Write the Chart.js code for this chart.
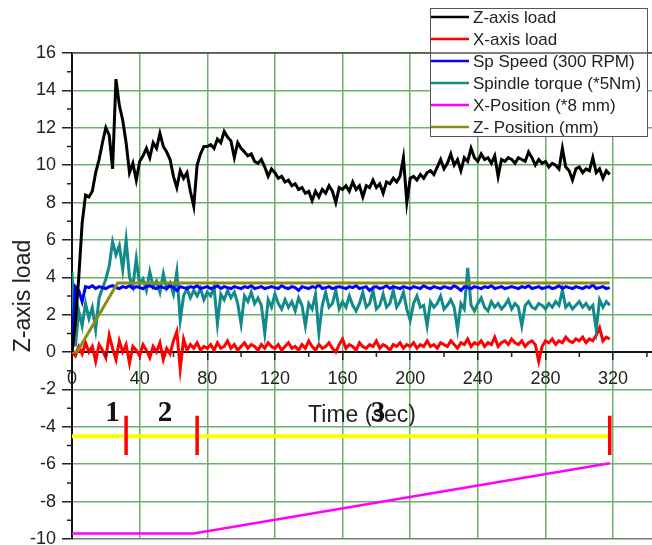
<!DOCTYPE html>
<html>
<head>
<meta charset="utf-8">
<title>Z-axis load</title>
<script src="https://cdn.jsdelivr.net/npm/chart.js@4.4.1/dist/chart.umd.min.js"></script>
<style>
    html, body { margin: 0; padding: 0; background: #fff; }
    #wrap { position: relative; width: 652px; height: 545px; }
</style>
</head>
<body>
<div id="wrap"><canvas id="load-chart"></canvas></div>
<script>
'use strict';

// one reading every 2 s
var timeSec = [
    0, 2, 4, 6, 8, 10, 12, 14, 16, 18,
    20, 22, 24, 26, 28, 30, 32, 34, 36, 38,
    40, 42, 44, 46, 48, 50, 52, 54, 56, 58,
    60, 62, 64, 66, 68, 70, 72, 74, 76, 78,
    80, 82, 84, 86, 88, 90, 92, 94, 96, 98,
    100, 102, 104, 106, 108, 110, 112, 114, 116, 118,
    120, 122, 124, 126, 128, 130, 132, 134, 136, 138,
    140, 142, 144, 146, 148, 150, 152, 154, 156, 158,
    160, 162, 164, 166, 168, 170, 172, 174, 176, 178,
    180, 182, 184, 186, 188, 190, 192, 194, 196, 198,
    200, 202, 204, 206, 208, 210, 212, 214, 216, 218,
    220, 222, 224, 226, 228, 230, 232, 234, 236, 238,
    240, 242, 244, 246, 248, 250, 252, 254, 256, 258,
    260, 262, 264, 266, 268, 270, 272, 274, 276, 278,
    280, 282, 284, 286, 288, 290, 292, 294, 296, 298,
    300, 302, 304, 306, 308, 310, 312, 314, 316, 318
];

var zAxisLoad = [
    0, 1.6, 4.0, 6.9, 8.4, 8.3, 8.6, 9.6, 10.3, 11.2,
    12.0, 11.6, 9.8, 14.6, 13.2, 12.4, 11.2, 9.6, 10.1, 9.2,
    10.2, 10.5, 10.9, 10.4, 11.2, 10.9, 11.7, 11.0, 10.7, 10.3,
    9.4, 8.8, 9.7, 9.3, 9.6, 8.6, 7.8, 10.0, 10.6, 11.0,
    11.0, 11.1, 10.9, 11.4, 11.2, 11.8, 11.5, 11.3, 10.4, 11.2,
    10.9, 10.7, 10.5, 10.6, 10.2, 10.1, 10.3, 9.9, 9.4, 9.8,
    9.6, 9.3, 9.4, 9.1, 9.2, 8.9, 9.0, 8.7, 8.8, 8.5,
    8.6, 8.1, 8.6, 8.3, 8.7, 8.5, 8.9, 8.6, 8.0, 8.8,
    8.7, 8.9, 8.6, 9.1, 8.7, 8.9, 8.3, 8.9, 8.8, 9.2,
    8.8, 9.0, 8.5, 9.1, 9.0, 9.3, 9.1, 9.4, 10.4, 8.0,
    9.3, 9.4, 9.2, 9.5, 9.3, 9.6, 9.7, 9.5, 9.9, 10.3,
    9.8, 10.1, 10.6, 10.0, 10.3, 9.7, 10.4, 10.2, 10.9, 10.4,
    10.2, 10.6, 10.3, 10.4, 10.1, 10.5, 9.4, 10.3, 10.2, 10.4,
    10.3, 10.1, 10.4, 10.3, 10.2, 10.7, 10.4, 10.0, 10.3, 10.1,
    10.2, 9.9, 10.1, 10.0, 9.8, 10.9, 9.9, 9.7, 9.2, 9.8,
    9.9, 9.6, 9.8, 9.7, 10.4, 9.6, 9.8, 9.3, 9.7, 9.5
];

var xAxisLoad = [
    0.0, -0.2, 0.3, -0.1, 0.5, 0.0, 0.3, -0.5, 0.4, 0.1,
    -0.3, 0.9, 0.2, -0.4, 0.6, 0.0, 0.4, -0.6, 0.3, 0.1,
    -0.2, 0.4, 0.1, -0.3, 0.3, 0.0, 0.5, -0.4, 0.2, -0.1,
    0.6, 1.1, -0.9, 0.7, 0.1, 0.4, 0.2, 0.5, 0.1, 0.3,
    0.2, 0.4, 0.1, 0.5, 0.2, 0.3, 0.6, 0.2, 0.4, 0.1,
    0.3, 0.5, 0.2, 0.4, 0.3, 0.1, 0.4, 0.2, 0.5, 0.3,
    0.2, 0.4, 0.1, 0.3, 0.5, 0.2, 0.3, 0.1, 0.4, 0.2,
    0.6, 0.3, 0.1, 0.4, 0.2, 0.3, 0.5, 0.2, 0.0, 0.4,
    0.7, 0.2, 0.4, 0.3, 0.1, 0.5, 0.3, 0.2, 0.4, 0.3,
    0.6, 0.2, 0.4, 0.3, 0.1, 0.4, 0.3, 0.5, 0.2, 0.4,
    0.3, 0.5, 0.2, 0.4, 0.3, 0.6, 0.3, 0.4, 0.2, 0.5,
    0.4, 0.3, 0.6, 0.4, 0.2, 0.5, 0.4, 0.7, 0.3, 0.5,
    0.4, 0.6, 0.3, 0.5, 0.4, 0.8, 0.3, 0.5, 0.6, 0.4,
    0.7, 0.5, 0.4, 0.6, 0.3, 0.5, 0.6, 0.4, -0.5, 0.3,
    0.6, 0.5, 0.7, 0.4, 0.6, 0.5, 0.8, 0.6, 0.5, 0.7,
    0.6, 0.8, 0.5, 0.7, 0.6, 0.9, 1.3, 0.6, 0.8, 0.7
];

var spSpeed = [
    0.0, 3.5, 3.3, 2.7, 3.5, 3.45, 3.55, 3.4, 3.5, 3.45,
    3.4, 3.5, 3.55, 3.45, 3.4, 3.5, 3.45, 3.55, 3.4, 3.5,
    3.45, 3.4, 3.5, 3.55, 3.45, 3.4, 3.5, 3.45, 3.4, 3.55,
    3.45, 3.3, 3.5, 3.45, 3.4, 3.5, 3.45, 3.55, 3.4, 3.45,
    3.5, 3.4, 3.45, 3.55, 3.4, 3.5, 3.45, 3.4, 3.5, 3.45,
    3.4, 3.5, 3.45, 3.55, 3.4, 3.45, 3.5, 3.4, 3.45, 3.5,
    3.45, 3.4, 3.55, 3.45, 3.4, 3.5, 3.45, 3.3, 3.5, 3.45,
    3.4, 3.5, 3.45, 3.6, 3.4, 3.45, 3.5, 3.4, 3.45, 3.5,
    3.45, 3.4, 3.5, 3.45, 3.55, 3.4, 3.45, 3.5, 3.3, 3.45,
    3.5, 3.4, 3.45, 3.55, 3.4, 3.5, 3.45, 3.4, 3.5, 3.45,
    3.4, 3.5, 3.45, 3.4, 3.55, 3.45, 3.4, 3.5, 3.45, 3.4,
    3.5, 3.45, 3.4, 3.55, 3.45, 3.3, 3.5, 3.45, 3.4, 3.5,
    3.45, 3.4, 3.5, 3.45, 3.55, 3.4, 3.45, 3.5, 3.4, 3.45,
    3.5, 3.45, 3.4, 3.5, 3.45, 3.55, 3.4, 3.45, 3.5, 3.4,
    3.45, 3.5, 3.4, 3.45, 3.55, 3.4, 3.5, 3.45, 3.4, 3.5,
    3.45, 3.4, 3.5, 3.45, 3.6, 3.4, 3.45, 3.5, 3.4, 3.45
];

var spindleTorque = [
    4.3, 0.3, 2.2, 1.4, 2.6, 1.8, 2.4, 1.2, 2.9, 3.4,
    3.9, 4.6, 5.9, 5.2, 5.7, 4.4, 6.0, 4.0, 3.5, 5.0,
    3.6, 3.9, 3.3, 4.3, 3.5, 3.8, 3.2, 4.2, 3.4, 3.7,
    3.1, 4.3, 1.7, 3.0, 3.4, 2.9, 3.3, 3.0, 3.4, 2.8,
    3.2, 3.0, 3.5, 1.5, 3.1, 2.8, 3.3, 2.9, 3.2, 2.6,
    1.5, 3.0, 2.7, 3.2, 2.6, 2.9, 2.5, 1.0, 2.8, 2.4,
    3.1, 2.6, 2.3, 2.8, 2.4, 2.7, 2.2, 2.9, 2.5, 1.4,
    2.6, 2.3, 3.1, 1.0, 2.5, 3.2, 2.4, 2.6, 3.3, 2.3,
    2.7, 2.4, 3.0, 2.5, 2.2, 2.6, 3.2, 2.4, 2.6, 3.3,
    2.3, 2.5, 3.1, 2.4, 2.6, 3.3, 2.4, 2.7, 3.2, 2.3,
    1.7, 2.6, 3.0, 2.4, 2.5, 1.4, 2.7, 2.4, 2.6, 3.0,
    2.3, 2.5, 2.8, 2.4, 1.2, 2.6, 2.3, 4.5, 2.5, 2.2,
    2.6, 2.9, 2.4, 2.2, 2.7, 2.4, 2.6, 2.3, 2.5, 2.8,
    2.3, 2.6, 2.4, 1.4, 2.5, 2.7, 2.4, 2.3, 2.6, 2.5,
    2.3, 2.6, 2.4, 2.7, 2.5, 3.3, 2.4, 2.6, 2.3, 2.5,
    2.7, 2.4, 2.6, 2.3, 2.5, 1.2, 2.8, 2.4, 2.7, 2.5
];

// positions only change at a few corners
var zPosTime = [0, 3, 27, 318];
var zPosValue = [0, 0, 3.7, 3.7];
var xPosTime = [0, 72, 318];
var xPosValue = [-9.7, -9.7, -5.95];

// machining phases 1-2-3
var phaseTime = [0, 318];
var phaseLevel = [-4.5, -4.5];
var phaseBreaks = [32, 74, 318];
var phaseBreakTop = -3.4;
var phaseBreakBottom = -5.5;
var phaseNames = ['1', '2', '3'];
var phaseNameTime = [24, 55, 181];
var phaseNameLevel = -3.3;

var gridGreen = '#6cb06c';

function toPoints(xs, ys) {
    return xs.map(function (x, i) {
        return { x: x, y: ys[i] };
    });
}

var breakPoints = [];
phaseBreaks.forEach(function (t) {
    breakPoints.push({ x: t, y: phaseBreakTop }, { x: t, y: phaseBreakBottom }, { x: t, y: null });
});

// legend box + minor ticks + phase numbers
var chartDecor = {
    id: 'chartDecor',
    afterDraw: function (chart) {
        var ctx = chart.ctx;
        var xs = chart.scales.x;
        var ys = chart.scales.y;
        var area = chart.chartArea;
        ctx.save();

        // minor ticks
        ctx.strokeStyle = '#222';
        ctx.lineWidth = 1.5;
        ctx.beginPath();
        for (var v = ys.min + 1; v < ys.max; v += 2) {
            var py = ys.getPixelForValue(v);
            ctx.moveTo(area.left - 5, py);
            ctx.lineTo(area.left, py);
        }
        var y0 = ys.getPixelForValue(0);
        for (var t = 20; t < xs.max; t += 40) {
            var px = xs.getPixelForValue(t);
            ctx.moveTo(px, y0);
            ctx.lineTo(px, y0 + 5);
        }
        ctx.stroke();

        // phase numbers
        ctx.fillStyle = '#111';
        ctx.font = 'bold 29px "Liberation Serif", "DejaVu Serif", serif';
        ctx.textAlign = 'center';
        ctx.textBaseline = 'middle';
        phaseNames.forEach(function (name, i) {
            ctx.fillText(name, xs.getPixelForValue(phaseNameTime[i]), ys.getPixelForValue(phaseNameLevel));
        });

        // legend
        var bx = 430.5, by = 8.5, bw = 217, bh = 128;
        ctx.fillStyle = '#fff';
        ctx.fillRect(bx, by, bw, bh);
        ctx.strokeStyle = '#555';
        ctx.lineWidth = 1;
        ctx.strokeRect(bx, by, bw, bh);
        ctx.font = '17px "Liberation Sans", Arial, sans-serif';
        ctx.textAlign = 'left';
        ctx.textBaseline = 'middle';
        var row = 0;
        chart.data.datasets.forEach(function (ds) {
            if (!ds.label) {
                return;
            }
            var ry = 17 + row * 22;
            ctx.strokeStyle = ds.borderColor;
            ctx.lineWidth = 2.5;
            ctx.beginPath();
            ctx.moveTo(431, ry);
            ctx.lineTo(469, ry);
            ctx.stroke();
            ctx.fillStyle = '#222';
            ctx.fillText(ds.label, 473, ry + 1);
            row++;
        });

        // top frame runs over the legend
        ctx.strokeStyle = '#555';
        ctx.lineWidth = 1.5;
        ctx.beginPath();
        ctx.moveTo(area.left, area.top);
        ctx.lineTo(area.right, area.top);
        ctx.stroke();

        ctx.restore();
    }
};

Chart.defaults.font.family = '"Liberation Sans", Arial, sans-serif';
Chart.defaults.color = '#222';

var lineDefaults = {
    type: 'line',
    pointRadius: 0,
    fill: false,
    tension: 0,
    borderWidth: 3,
    spanGaps: false
};

function series(opts) {
    return Object.assign({}, lineDefaults, opts);
}

var loadChart = new Chart(document.getElementById('load-chart'), {
    type: 'line',
    data: {
        datasets: [
            series({ label: 'Z-axis load', data: toPoints(timeSec, zAxisLoad), borderColor: '#000000', order: 0 }),
            series({ label: 'X-axis load', data: toPoints(timeSec, xAxisLoad), borderColor: '#ff0000', order: 5 }),
            series({ label: 'Sp Speed (300 RPM)', data: toPoints(timeSec, spSpeed), borderColor: '#0000ff', order: 3 }),
            series({ label: 'Spindle torque (*5Nm)', data: toPoints(timeSec, spindleTorque), borderColor: '#138a8a', order: 4 }),
            series({ label: 'X-Position (*8 mm)', data: toPoints(xPosTime, xPosValue), borderColor: '#ff00ff', borderWidth: 2.5, order: 1 }),
            series({ label: 'Z- Position (mm)', data: toPoints(zPosTime, zPosValue), borderColor: '#8b8b1a', order: 2 }),
            series({ data: toPoints(phaseTime, phaseLevel), borderColor: '#ffff00', borderWidth: 4, order: 7 }),
            series({ data: breakPoints, borderColor: '#ff0000', borderWidth: 3.5, order: 6 })
        ]
    },
    options: {
        responsive: true,
        maintainAspectRatio: false,
        animation: false,
        layout: {
            padding: { top: 53, right: 0, bottom: 6, left: 0 }
        },
        scales: {
            x: {
                type: 'linear',
                position: { y: 0 },
                min: 0,
                max: 343,
                ticks: {
                    stepSize: 40,
                    includeBounds: false,
                    autoSkip: false,
                    maxRotation: 0,
                    padding: 9,
                    font: { size: 18 },
                    color: '#222'
                },
                grid: {
                    color: gridGreen,
                    lineWidth: 1.5,
                    tickLength: 7,
                    tickColor: '#222',
                    tickWidth: 1.5
                },
                border: { color: '#111', width: 2 },
                title: {
                    display: true,
                    text: 'Time (sec)',
                    font: { size: 23 },
                    color: '#222',
                    padding: { top: 0, bottom: 0 }
                },
                afterFit: function (scale) {
                    scale.height = 77;
                }
            },
            y: {
                min: -10,
                max: 16,
                ticks: {
                    stepSize: 2,
                    padding: 6,
                    font: { size: 18 },
                    color: '#222'
                },
                grid: {
                    color: function (c) {
                        return (c.tick && (c.tick.value === 16 || c.tick.value === -10)) ? '#777' : gridGreen;
                    },
                    lineWidth: 1.5,
                    tickLength: 10,
                    tickColor: '#222',
                    tickWidth: 1.5
                },
                border: { color: '#111', width: 2 },
                title: {
                    display: true,
                    text: 'Z-axis load',
                    font: { size: 23 },
                    color: '#222',
                    padding: { top: 10, bottom: 0 }
                },
                afterFit: function (scale) {
                    scale.width = 72;
                    scale.paddingTop = 0;
                    scale.paddingBottom = 0;
                }
            }
        },
        plugins: {
            legend: { display: false },
            tooltip: { enabled: false }
        }
    },
    plugins: [chartDecor]
});
</script>
</body>
</html>
